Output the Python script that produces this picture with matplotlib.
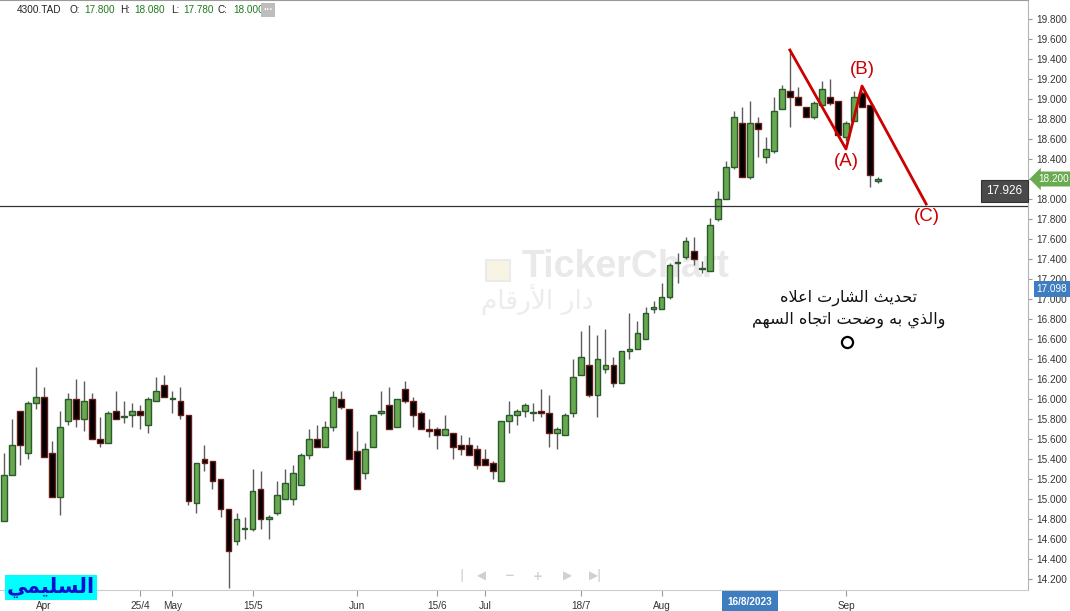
import numpy as np
import matplotlib.pyplot as plt
from matplotlib.patches import Rectangle
from matplotlib.transforms import blended_transform_factory

plt.rcParams['font.family'] = ['Liberation Sans', 'DejaVu Sans']

# daily candles, 4300.TAD (late Mar -> 7 Sep 2023)
opens = [14.78, 15.24, 15.88, 15.46, 15.96, 16.02, 15.46, 15.02, 15.78, 16.00,
         15.80, 16.00, 15.60, 15.56, 15.88, 15.82, 15.84, 15.88, 15.74, 15.98,
         16.14, 16.00, 15.98, 15.84, 14.96, 15.40, 15.38, 15.20, 14.90, 14.58,
         14.70, 14.70, 15.10, 14.80, 14.86, 15.00, 15.00, 15.14, 15.44, 15.60,
         15.52, 15.72, 16.00, 15.90, 15.48, 15.26, 15.52, 15.86, 15.94, 15.72,
         16.10, 15.98, 15.86, 15.70, 15.70, 15.64, 15.66, 15.54, 15.54, 15.50,
         15.40, 15.36, 15.18, 15.78, 15.84, 15.88, 15.86, 15.88, 15.86, 15.66,
         15.64, 15.86, 16.24, 16.34, 16.04, 16.30, 16.34, 16.16, 16.48, 16.50,
         16.60, 16.90, 16.90, 17.02, 17.36, 17.42, 17.48, 17.30, 17.28, 17.80,
         18.00, 18.32, 18.76, 18.22, 18.76, 18.42, 18.48, 18.90, 19.08, 19.02,
         18.92, 18.82, 18.94, 19.02, 18.98, 18.62, 18.78, 19.06, 18.94, 18.18]
highs = [15.46, 15.80, 15.88, 15.98, 16.32, 16.12, 15.58, 15.88, 16.06, 16.20,
         16.18, 16.06, 15.82, 15.88, 16.08, 15.98, 15.96, 15.94, 16.02, 16.22,
         16.24, 16.08, 16.12, 15.84, 15.36, 15.54, 15.38, 15.20, 14.90, 14.86,
         14.82, 15.30, 15.28, 14.84, 15.18, 15.30, 15.34, 15.46, 15.70, 15.74,
         15.78, 16.08, 16.08, 15.90, 15.68, 15.56, 15.84, 16.08, 16.12, 16.00,
         16.18, 16.02, 15.88, 15.80, 15.72, 15.84, 15.66, 15.64, 15.62, 15.54,
         15.50, 15.38, 15.78, 15.98, 15.90, 15.96, 15.96, 16.10, 16.04, 15.72,
         15.86, 16.40, 16.68, 16.74, 16.64, 16.70, 16.42, 16.48, 16.86, 16.78,
         16.92, 16.98, 17.16, 17.36, 17.46, 17.62, 17.62, 17.38, 17.81, 18.08,
         18.38, 18.88, 18.92, 18.98, 18.82, 18.62, 19.02, 19.14, 19.50, 19.12,
         18.92, 18.98, 19.18, 19.20, 18.98, 18.78, 19.08, 19.08, 18.94, 18.22]
lows = [14.78, 15.24, 15.34, 15.40, 15.90, 15.42, 15.02, 14.84, 15.74, 15.72,
        15.68, 15.60, 15.52, 15.56, 15.80, 15.76, 15.72, 15.70, 15.66, 15.98,
        16.02, 15.86, 15.80, 14.94, 14.86, 15.28, 15.10, 14.82, 14.11, 14.54,
        14.60, 14.68, 14.70, 14.60, 14.84, 15.00, 14.94, 15.14, 15.40, 15.52,
        15.52, 15.68, 15.90, 15.40, 15.10, 15.20, 15.52, 15.84, 15.70, 15.72,
        15.96, 15.72, 15.70, 15.62, 15.50, 15.64, 15.40, 15.44, 15.44, 15.30,
        15.34, 15.20, 15.18, 15.66, 15.74, 15.82, 15.78, 15.82, 15.52, 15.50,
        15.64, 15.82, 16.24, 16.02, 15.82, 16.26, 16.12, 16.16, 16.40, 16.50,
        16.60, 16.86, 16.90, 17.00, 17.16, 17.40, 17.34, 17.26, 17.28, 17.78,
        18.00, 18.30, 18.22, 18.20, 18.42, 18.36, 18.46, 18.90, 18.72, 18.94,
        18.82, 18.80, 18.94, 18.94, 18.64, 18.58, 18.78, 18.92, 18.12, 18.16]
closes = [15.24, 15.54, 15.54, 15.96, 16.02, 15.42, 15.02, 15.72, 16.00, 15.80,
          15.98, 15.60, 15.56, 15.86, 15.80, 15.82, 15.88, 15.84, 16.00, 16.08,
          16.02, 16.00, 15.84, 14.98, 15.36, 15.36, 15.18, 14.90, 14.48, 14.80,
          14.70, 15.08, 14.80, 14.82, 15.04, 15.16, 15.26, 15.44, 15.60, 15.52,
          15.72, 16.02, 15.92, 15.40, 15.10, 15.50, 15.84, 15.88, 15.70, 16.00,
          15.98, 15.84, 15.70, 15.68, 15.64, 15.70, 15.52, 15.50, 15.44, 15.34,
          15.34, 15.28, 15.78, 15.84, 15.88, 15.94, 15.86, 15.86, 15.66, 15.70,
          15.84, 16.22, 16.42, 16.04, 16.40, 16.34, 16.16, 16.48, 16.50, 16.66,
          16.86, 16.92, 17.02, 17.34, 17.36, 17.58, 17.40, 17.30, 17.74, 18.00,
          18.32, 18.82, 18.22, 18.76, 18.70, 18.50, 18.88, 19.10, 19.02, 18.94,
          18.82, 18.96, 19.10, 18.96, 18.64, 18.76, 19.02, 18.92, 18.24, 18.20]

# x axis (candle index of each date label)
date_ticks = [5, 17, 21, 31, 44, 54, 60, 72, 82, 105]
date_labels = ['Apr', '25/4', 'May', '15/5', 'Jun', '15/6', 'Jul', '18/7', 'Aug', 'Sep']
price_ticks = np.round(np.arange(14.2, 19.81, 0.2), 1)

# ABC wave drawn on the chart
wave_x = [98, 105, 107, 115]
wave_y = [19.49, 18.50, 19.13, 17.95]
wave_names = ['(A)', '(B)', '(C)']
wave_label_x = [105, 107.1, 115.1]
wave_label_y = [18.38, 19.29, 17.83]

support = 17.926
last_price = 18.20
cross_price = 17.098
cross_date = '16/8/2023'
cross_idx = 93
header = [('4300.TAD', '#222222'), ('O:', '#222222'), ('17.800', '#1f7a1f'),
          ('H:', '#222222'), ('18.080', '#1f7a1f'), ('L:', '#222222'),
          ('17.780', '#1f7a1f'), ('C:', '#222222'), ('18.000', '#1f7a1f')]
note_lines = ['تحديث الشارت اعلاه', 'والذي به وضحت اتجاه السهم']
author = 'السليمي'
watermark_ar = 'دار الأرقام'

# minimal arabic shaping (matplotlib has no complex text layout)
FORMS = {
    'ا': (0xFE8D, 0xFE8E, None, None), 'أ': (0xFE83, 0xFE84, None, None),
    'ب': (0xFE8F, 0xFE90, 0xFE91, 0xFE92), 'ت': (0xFE95, 0xFE96, 0xFE97, 0xFE98),
    'ث': (0xFE99, 0xFE9A, 0xFE9B, 0xFE9C), 'ج': (0xFE9D, 0xFE9E, 0xFE9F, 0xFEA0),
    'ح': (0xFEA1, 0xFEA2, 0xFEA3, 0xFEA4), 'د': (0xFEA9, 0xFEAA, None, None),
    'ذ': (0xFEAB, 0xFEAC, None, None), 'ر': (0xFEAD, 0xFEAE, None, None),
    'ز': (0xFEAF, 0xFEB0, None, None), 'س': (0xFEB1, 0xFEB2, 0xFEB3, 0xFEB4),
    'ش': (0xFEB5, 0xFEB6, 0xFEB7, 0xFEB8), 'ض': (0xFEBD, 0xFEBE, 0xFEBF, 0xFEC0),
    'ع': (0xFEC9, 0xFECA, 0xFECB, 0xFECC), 'ق': (0xFED5, 0xFED6, 0xFED7, 0xFED8),
    'ل': (0xFEDD, 0xFEDE, 0xFEDF, 0xFEE0), 'م': (0xFEE1, 0xFEE2, 0xFEE3, 0xFEE4),
    'ه': (0xFEE9, 0xFEEA, 0xFEEB, 0xFEEC), 'و': (0xFEED, 0xFEEE, None, None),
    'ي': (0xFEF1, 0xFEF2, 0xFEF3, 0xFEF4),
}
LAM_ALEF = {'ا': (0xFEFB, 0xFEFC), 'أ': (0xFEF7, 0xFEF8)}


def shape(txt):
    res = []
    i = 0
    while i < len(txt):
        ch = txt[i]
        if ch not in FORMS:
            res.append(ch)
            i += 1
            continue
        prev = txt[i - 1] if i > 0 else ''
        joined = prev in FORMS and FORMS[prev][2] is not None
        if ch == 'ل' and i + 1 < len(txt) and txt[i + 1] in LAM_ALEF:
            res.append(chr(LAM_ALEF[txt[i + 1]][1 if joined else 0]))
            i += 2
            continue
        nxt = txt[i + 1] if i + 1 < len(txt) else ''
        iso, fin, ini, med = FORMS[ch]
        links = ini is not None and nxt in FORMS
        if joined and links:
            g = med
        elif joined:
            g = fin
        elif links:
            g = ini
        else:
            g = iso
        res.append(chr(g))
        i += 1
    return ''.join(res[::-1])


W, H = 1070, 611
fig = plt.figure(figsize=(W / 100, H / 100), dpi=100)
ax = fig.add_axes([0, 21 / H, 1028 / W, 590 / H])
ax.set_xlim(-0.5, 127.7)
ax.set_ylim(14.09, 19.99)

idx = np.arange(len(closes))
o = np.array(opens)
c = np.array(closes)
up = c >= o
lo = np.minimum(o, c)
hgt = np.maximum(np.abs(c - o), 0.012)

ax.vlines(idx, lows, highs, color='#5c5c5c', lw=1, zorder=2)
ax.bar(idx[up], hgt[up], bottom=lo[up], width=0.72, color='#68a94f',
       edgecolor='#2a5a2c', lw=1, zorder=3)
ax.bar(idx[~up], hgt[~up], bottom=lo[~up], width=0.72, color='black',
       edgecolor='#6b1a1a', lw=1, zorder=3)

# watermark
ax.text(0.609, 0.548, 'TickerChart', transform=ax.transAxes, ha='center', va='center',
        fontsize=27, fontweight='bold', color='#e9e9e9', zorder=1)
ax.text(0.523, 0.492, shape(watermark_ar), transform=ax.transAxes, ha='center', va='center',
        fontsize=19, color='#ececec', family='DejaVu Sans', zorder=1)
ax.add_patch(Rectangle((0.473, 0.524), 0.023, 0.036, transform=ax.transAxes,
                       fc='#f8f4e4', ec='#ebebeb', lw=1.5, zorder=1))

# support line + label
ax.axhline(support, color='#333333', lw=0.9, zorder=4)
ax.text(0.9945, 18.08, '%.3f' % support, transform=blended_transform_factory(ax.transAxes, ax.transData),
        ha='right', va='center', color='white', fontsize=8.5,
        bbox=dict(boxstyle='square,pad=0.45', fc='#4a4a4a', ec='#333333', lw=0.8), zorder=6)

# ABC wave
ax.plot(wave_x, wave_y, color='#cc0000', lw=2, zorder=5)
for name, x, y in zip(wave_names, wave_label_x, wave_label_y):
    ax.text(x, y, name, color='#cc0000', fontsize=13.5, ha='center', va='center', zorder=6)

# note
ax.text(105.3, 17.01, shape(note_lines[0]), ha='center', va='center', fontsize=11.5,
        family='DejaVu Sans', color='#111111', zorder=6)
ax.text(105.3, 16.79, shape(note_lines[1]), ha='center', va='center', fontsize=11.5,
        family='DejaVu Sans', color='#111111', zorder=6)
ax.plot([105.1], [16.57], 'o', ms=8, mfc='white', mec='black', mew=1.6, zorder=6)

# axes look
ax.spines['left'].set_visible(False)
ax.spines['right'].set_color('#b5b5b5')
ax.spines['top'].set_color('#9a9a9a')
ax.spines['bottom'].set_color('#cccccc')
ax.yaxis.tick_right()
ax.set_yticks(price_ticks, ['%.3f' % p for p in price_ticks])
ax.set_xticks(date_ticks, date_labels)
ax.tick_params(axis='y', length=3, color='#999999', labelsize=7.2, labelcolor='#333333', pad=3)
ax.tick_params(axis='x', length=4, color='#999999', labelsize=7.2, labelcolor='#333333', pad=4)

rtrans = blended_transform_factory(ax.transAxes, ax.transData)
ax.text(1.0095, last_price, '%.3f' % last_price, transform=rtrans, ha='left', va='center',
        color='white', fontsize=7.2, clip_on=False, zorder=10,
        bbox=dict(boxstyle='larrow,pad=0.25', fc='#6aaa50', ec='none'))
ax.text(1.0085, cross_price, '%.3f' % cross_price, transform=rtrans, ha='left', va='center',
        color='white', fontsize=7.2, clip_on=False, zorder=10,
        bbox=dict(boxstyle='square,pad=0.3', fc='#3e7dbf', ec='none'))
ax.text(cross_idx, -0.02, cross_date, transform=blended_transform_factory(ax.transData, ax.transAxes),
        ha='center', va='center', color='white', fontsize=7.2, fontweight='bold', clip_on=False, zorder=10,
        bbox=dict(boxstyle='square,pad=0.55', fc='#3e7dbf', ec='none'))

# header
hx = [17, 69, 84, 120, 134, 171, 183, 218, 233]
for (t, col), x in zip(header, hx):
    fig.text(x / W, 1 - 10 / H, t, color=col, fontsize=7.2, ha='left', va='center')
fig.text(268 / W, 1 - 10 / H, '···', color='white', fontsize=7, ha='center', va='center',
         fontweight='bold', bbox=dict(boxstyle='square,pad=0.25', fc='#bdbdbd', ec='none'))

# navigation strip
for x, t in [(462, '|'), (481, '◀'), (510, '−'), (538, '+'), (567, '▶'), (593, '▶'), (599, '|')]:
    fig.text(x / W, 1 - 576 / H, t, color='#d0d0d0', fontsize=8.5, ha='center', va='center',
             family='DejaVu Sans', fontweight='bold')

# author tag
fig.patches.append(Rectangle((5 / W, 1 - 600 / H), 92 / W, 25 / H, transform=fig.transFigure,
                             fc='#00ffff', ec='none', zorder=20))
fig.text(51 / W, 1 - 587 / H, shape(author), color='#0a10d0', fontsize=15, fontweight='bold',
         family='DejaVu Sans', ha='center', va='center', zorder=21)

fig.savefig('out.png', dpi=100, facecolor='white')
